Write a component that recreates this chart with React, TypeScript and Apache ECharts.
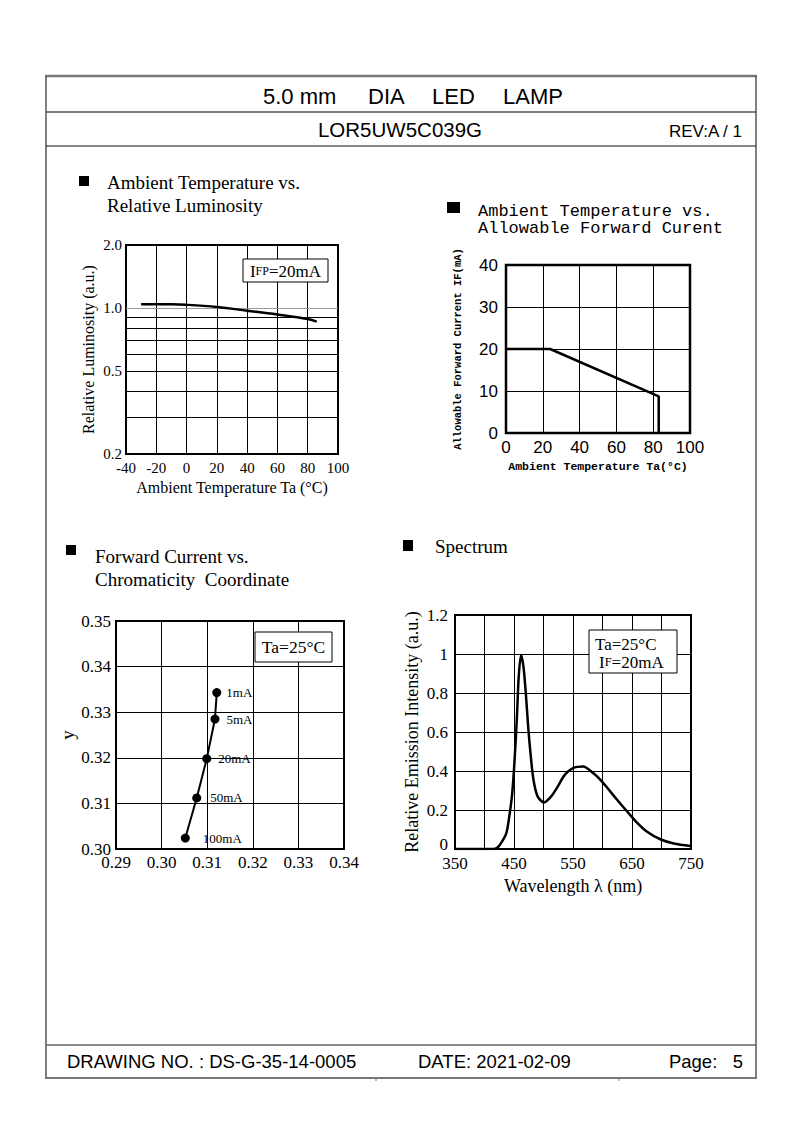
import React, { useEffect, useRef } from 'react';
import * as echarts from 'echarts';

const SERIF = "'Liberation Serif', 'Times New Roman', serif";
const SANS = "'Liberation Sans', Arial, sans-serif";
const MONO = "'Liberation Mono', 'Courier New', monospace";

// ---- Chart 1: Ambient Temperature vs. Relative Luminosity ----
const lumTemp = [-30, -10, 0, 20, 40, 60, 80, 86];
const lumValue = [1.04, 1.04, 1.035, 1.01, 0.97, 0.93, 0.885, 0.86];
const lumGridValues = [0.2, 0.3, 0.4, 0.5, 0.6, 0.7, 0.8, 0.9, 1.0, 2.0];
const lumTickLabels = ['0.2', '0.5', '1.0', '2.0'];

// ---- Chart 2: Ambient Temperature vs. Allowable Forward Current ----
const derateTemp = [0, 24, 83, 83];
const derateCurrent = [20, 20, 8.7, 0];

// ---- Chart 3: Forward Current vs. Chromaticity Coordinate ----
const chromaX = [0.3121, 0.3117, 0.3099, 0.3077, 0.3052];
const chromaY = [0.3343, 0.3285, 0.3198, 0.3112, 0.3024];
const chromaCurrent = ['1mA', '5mA', '20mA', '50mA', '100mA'];
const chromaLabelGap = [5, 7, 7, 9, 13];

// ---- Chart 4: Spectrum ----
const wavelength = [350, 415, 422, 428, 437, 442, 447, 451, 455, 458, 462, 466, 470, 474, 478, 483, 490, 501, 513, 524, 536, 550, 567, 584, 595, 607, 624, 641, 658, 675, 698, 721, 749];
const intensity = [0, 0, 0.008, 0.03, 0.082, 0.167, 0.287, 0.457, 0.68, 0.884, 0.995, 0.935, 0.8, 0.628, 0.49, 0.355, 0.27, 0.239, 0.27, 0.32, 0.38, 0.415, 0.423, 0.39, 0.36, 0.318, 0.255, 0.195, 0.137, 0.09, 0.05, 0.028, 0.015];
const spectrumTickLabels = [350, 450, 550, 650, 750];

const black = '#000';

function txt(text: string, x: number, y: number, font: string, align = 'left', extra: any = {}) {
  return {
    type: 'text',
    z: 101,
    silent: true,
    style: {
      text, x, y, font, fill: black,
      textAlign: align, align,
      textVerticalAlign: 'middle', verticalAlign: 'middle',
      ...extra,
    },
  };
}

function hline(x1: number, x2: number, y: number, color: string, w: number) {
  return { type: 'line', z: 100, silent: true, shape: { x1, y1: y, x2, y2: y }, style: { stroke: color, lineWidth: w } };
}
function vline(x: number, y1: number, y2: number, color: string, w: number) {
  return { type: 'line', z: 100, silent: true, shape: { x1: x, y1, x2: x, y2 }, style: { stroke: color, lineWidth: w } };
}
function square(x: number, y: number, w: number, h: number) {
  return { type: 'rect', z: 100, silent: true, shape: { x, y, width: w, height: h }, style: { fill: black } };
}
function box(x: number, y: number, w: number, h: number) {
  return { type: 'rect', z: 100, silent: true, shape: { x, y, width: w, height: h }, style: { fill: '#fff', stroke: black, lineWidth: 1 } };
}

const split = { show: true, lineStyle: { color: black, width: 1 } };
const noLine = { show: false };

function buildOption(): any {
  const serif = (size: number) => ({ fontFamily: SERIF, fontSize: size, color: black });

  const graphic: any[] = [
    // page frame
    hline(45, 757, 76, '#7a7a7a', 2.5),
    vline(46, 76, 1078, '#555', 1.5),
    vline(756, 76, 1078, '#555', 1.5),
    hline(46, 756, 112, '#555', 1.5),
    hline(46, 756, 146, '#111', 1),
    hline(46, 756, 1045, '#666', 1.5),
    hline(45, 757, 1078, '#777', 2),
    vline(376, 1078, 1081, '#777', 1),
    vline(619, 1078, 1081, '#777', 1),
    // header
    txt('5.0 mm', 263, 96, `22px ${SANS}`),
    txt('DIA', 368, 96, `22px ${SANS}`),
    txt('LED', 432, 96, `22px ${SANS}`),
    txt('LAMP', 503, 96, `22px ${SANS}`),
    txt('LOR5UW5C039G', 400, 129, `20.5px ${SANS}`, 'center'),
    txt('REV:A / 1', 742, 131, `17px ${SANS}`, 'right'),
    // footer
    txt('DRAWING NO. : DS-G-35-14-0005', 67, 1061, `18.5px ${SANS}`),
    txt('DATE: 2021-02-09', 418, 1061, `18.5px ${SANS}`),
    txt('Page:   5', 743, 1061, `18.5px ${SANS}`, 'right'),
    // chart 1 title
    square(79, 176, 10, 10),
    txt('Ambient Temperature vs.', 107, 182, `19px ${SERIF}`),
    txt('Relative Luminosity', 107, 205, `19px ${SERIF}`),
    // chart 2 title
    square(447, 202, 13, 11),
    txt('Ambient Temperature vs.', 478, 211, `17px ${MONO}`),
    txt('Allowable Forward Curent', 478, 228, `17px ${MONO}`),
    // chart 3 title
    square(66, 545, 10, 10),
    txt('Forward Current vs.', 95, 556, `19px ${SERIF}`),
    txt('Chromaticity  Coordinate', 95, 579, `19px ${SERIF}`),
    // chart 4 title
    square(403, 540, 10, 11),
    txt('Spectrum', 435, 546, `19px ${SERIF}`),
    // chart 1 annotation
    box(243, 259, 85, 23),
    {
      type: 'text', z: 101, silent: true,
      style: {
        text: '{a|I}{b|FP}{a|=20mA}', x: 285.5, y: 271,
        textAlign: 'center', align: 'center', textVerticalAlign: 'middle', verticalAlign: 'middle',
        fill: black,
        rich: {
          a: { fontFamily: SERIF, fontSize: 17, fill: black, color: black },
          b: { fontFamily: SERIF, fontSize: 12, fill: black, color: black },
        },
      },
    },
    // chart 3 annotation
    box(255, 632, 77, 30),
    txt('Ta=25°C', 293.5, 647, `17.5px ${SERIF}`, 'center'),
    // chart 4 annotation
    box(589, 630, 88, 43),
    txt('Ta=25°C', 595, 644, `17px ${SERIF}`, 'left'),
    {
      type: 'text', z: 101, silent: true,
      style: {
        text: '{a|I}{b|F}{a|=20mA}', x: 599, y: 662,
        textAlign: 'left', align: 'left', textVerticalAlign: 'middle', verticalAlign: 'middle',
        fill: black,
        rich: {
          a: { fontFamily: SERIF, fontSize: 17, fill: black, color: black },
          b: { fontFamily: SERIF, fontSize: 12.5, fill: black, color: black },
        },
      },
    },
  ];

  const grids = [
    { left: 126, top: 245, width: 212, height: 209 },
    { left: 506, top: 265, width: 184, height: 168 },
    { left: 116, top: 621, width: 228, height: 228 },
    { left: 455, top: 615, width: 236, height: 234 },
  ].map((g, i) => ({ ...g, show: true, borderColor: black, borderWidth: i === 1 ? 2.5 : 2, backgroundColor: 'transparent', containLabel: false }));

  const xAxis: any[] = [
    {
      gridIndex: 0, type: 'value', min: -40, max: 100, interval: 20,
      axisLine: noLine, axisTick: noLine, splitLine: split,
      axisLabel: { ...serif(15), margin: 6 },
      name: 'Ambient Temperature Ta (°C)', nameLocation: 'middle', nameGap: 25,
      nameTextStyle: serif(16),
    },
    {
      gridIndex: 1, type: 'value', min: 0, max: 100, interval: 20,
      axisLine: noLine, axisTick: noLine, splitLine: split,
      axisLabel: { fontFamily: SANS, fontSize: 17, color: black, margin: 6 },
      name: 'Ambient Temperature Ta(°C)', nameLocation: 'middle', nameGap: 27,
      nameTextStyle: { fontFamily: MONO, fontSize: 11.5, fontWeight: 'bold', color: black },
    },
    {
      gridIndex: 2, type: 'value', min: 0.29, max: 0.34, interval: 0.01,
      axisLine: noLine, axisTick: noLine, splitLine: split,
      axisLabel: { ...serif(17), margin: 5, formatter: (v: number) => v.toFixed(2) },
    },
    {
      gridIndex: 3, type: 'value', min: 350, max: 750, interval: 50,
      axisLine: noLine, axisTick: noLine, splitLine: split,
      axisLabel: {
        ...serif(17), margin: 6,
        formatter: (v: number) => (spectrumTickLabels.includes(Math.round(v)) ? String(Math.round(v)) : ''),
      },
      name: 'Wavelength λ (nm)', nameLocation: 'middle', nameGap: 28,
      nameTextStyle: serif(18),
    },
  ];

  const yAxis: any[] = [
    {
      gridIndex: 0, type: 'log', logBase: 10, min: 0.2, max: 2,
      axisLine: noLine, axisTick: noLine, splitLine: noLine, axisLabel: { show: false },
      name: 'Relative Luminosity (a.u.)', nameLocation: 'middle', nameGap: 30,
      nameTextStyle: serif(16),
    },
    {
      gridIndex: 1, type: 'value', min: 0, max: 40, interval: 10,
      axisLine: noLine, axisTick: noLine, splitLine: split,
      axisLabel: { fontFamily: SANS, fontSize: 17, color: black, margin: 8 },
      name: 'Allowable Forward Current IF(mA)', nameLocation: 'middle', nameGap: 43,
      nameTextStyle: { fontFamily: MONO, fontSize: 10.5, fontWeight: 'bold', color: black },
    },
    {
      gridIndex: 2, type: 'value', min: 0.3, max: 0.35, interval: 0.01,
      axisLine: noLine, axisTick: noLine, splitLine: split,
      axisLabel: { ...serif(17), margin: 5, formatter: (v: number) => v.toFixed(2) },
      name: 'y', nameLocation: 'middle', nameGap: 32, nameTextStyle: serif(19),
    },
    {
      gridIndex: 3, type: 'value', min: 0, max: 1.2, interval: 0.2,
      axisLine: noLine, axisTick: noLine, splitLine: split,
      axisLabel: {
        ...serif(17), margin: 7,
        formatter: (v: number) => (v === 0 ? '{z|0}' : String(+v.toFixed(1))),
        rich: { z: { fontFamily: SERIF, fontSize: 17, color: black, padding: [0, 0, 9, 0] } },
      },
      name: 'Relative Emission Intensity (a.u.)', nameLocation: 'middle', nameGap: 34,
      nameTextStyle: serif(18),
    },
  ];

  const series: any[] = [
    {
      type: 'line', xAxisIndex: 0, yAxisIndex: 0, smooth: 0.4, showSymbol: false, z: 5,
      lineStyle: { color: black, width: 2.5 },
      data: lumTemp.map((t, i) => [t, lumValue[i]]),
      markLine: {
        silent: true, symbol: ['none', 'none'], animation: false,
        data: lumGridValues.map((v) => ({
          yAxis: v,
          lineStyle: { color: v === 1 ? '#9a9a9a' : black, width: 1, type: 'solid' },
          label: {
            show: lumTickLabels.includes(v.toFixed(1)),
            formatter: v.toFixed(1), position: 'start', distance: 4,
            color: black, fontFamily: SERIF, fontSize: 15,
          },
        })),
      },
    },
    {
      type: 'line', xAxisIndex: 1, yAxisIndex: 1, showSymbol: false, z: 5,
      lineStyle: { color: black, width: 2.5 },
      data: derateTemp.map((t, i) => [t, derateCurrent[i]]),
    },
    {
      type: 'line', xAxisIndex: 2, yAxisIndex: 2, symbol: 'circle', symbolSize: 9, z: 5,
      lineStyle: { color: black, width: 2 },
      itemStyle: { color: black },
      data: chromaX.map((x, i) => ({
        value: [x, chromaY[i]],
        label: {
          show: true, position: 'right', distance: chromaLabelGap[i],
          formatter: chromaCurrent[i], fontFamily: SERIF, fontSize: 13, color: black,
        },
      })),
    },
    {
      type: 'line', xAxisIndex: 3, yAxisIndex: 3, showSymbol: false, smooth: 0.3, z: 5,
      lineStyle: { color: black, width: 2.5 },
      data: wavelength.map((w, i) => [w, intensity[i]]),
    },
  ];

  return {
    animation: false,
    backgroundColor: '#fff',
    grid: grids,
    xAxis,
    yAxis,
    series,
    graphic: { elements: graphic },
  };
}

export default function App() {
  const ref = useRef<HTMLDivElement>(null);
  useEffect(() => {
    if (!ref.current) return;
    const chart = echarts.init(ref.current, null, { renderer: 'svg' });
    chart.setOption(buildOption());
    return () => chart.dispose();
  }, []);
  return (
    <div
      ref={ref}
      style={{ position: 'absolute', left: 0, top: 0, width: 794, height: 1123, background: '#fff' }}
    />
  );
}
